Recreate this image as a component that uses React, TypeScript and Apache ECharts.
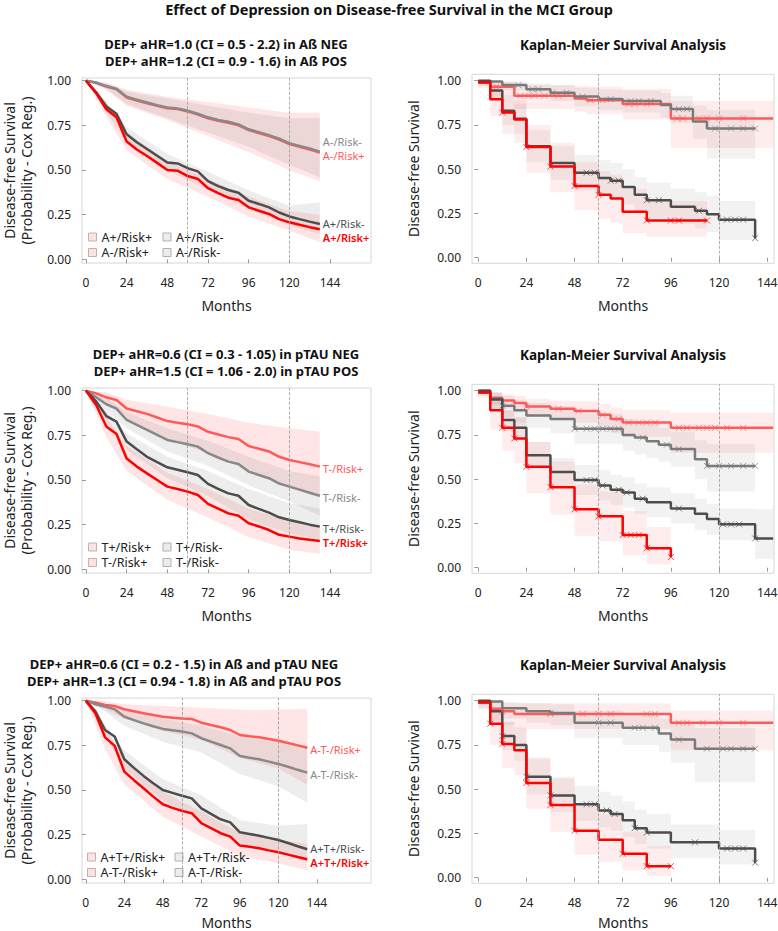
import React, { useEffect, useRef } from "react";
import * as echarts from "echarts";

const FONT = "'Noto Sans', 'DejaVu Sans', sans-serif";
const RED = "#ff0000";
const LRED = "#ff5a5a";
const DARK = "#4d4d4d";
const GRAY = "#888888";
const PINK_BAND = "rgba(255,0,0,0.10)";
const GRAY_BAND = "rgba(110,110,110,0.12)";
const KM_PINK_BAND = "rgba(255,0,0,0.075)";
const KM_GRAY_BAND = "rgba(110,110,110,0.09)";

const MAIN_TITLE = "Effect of Depression on Disease-free Survival in the MCI Group";
const COX_TITLES = [
  "DEP+ aHR=1.0 (CI = 0.5 - 2.2) in Aß NEG\nDEP+ aHR=1.2 (CI = 0.9 - 1.6) in Aß POS",
  "DEP+ aHR=0.6 (CI = 0.3 - 1.05) in pTAU NEG\nDEP+ aHR=1.5 (CI = 1.06 - 2.0) in pTAU POS",
  "DEP+ aHR=0.6 (CI = 0.2 - 1.5) in Aß and pTAU NEG\nDEP+ aHR=1.3 (CI = 0.94 - 1.8) in Aß and pTAU POS",
];
const KM_TITLE = "Kaplan-Meier Survival Analysis";
const X_TICKS = [0, 24, 48, 72, 96, 120, 144];
const Y_TICKS = [0, 0.25, 0.5, 0.75, 1];
const ROW_OFF = [0, 310, 620];

// ---- Cox regression curves (left column) ----
const MONTHS = [0, 6, 12, 18, 24, 30, 36, 42, 48, 54, 60, 66, 72, 78, 84, 90, 96, 102, 108, 114, 120, 126, 132, 138];
const BAND_M = [0, 12, 24, 48, 72, 96, 120, 138];

// Panel 1 (Aß)
const P1_LABELS = ["A+/Risk+", "A+/Risk-", "A-/Risk+", "A-/Risk-"];
const P1_APRP = [1, 0.93, 0.84, 0.795, 0.66, 0.615, 0.578, 0.54, 0.5, 0.496, 0.466, 0.45, 0.398, 0.37, 0.345, 0.332, 0.291, 0.272, 0.254, 0.225, 0.207, 0.193, 0.18, 0.168];
const P1_APRM = [1, 0.935, 0.855, 0.815, 0.7, 0.655, 0.618, 0.58, 0.542, 0.537, 0.51, 0.492, 0.438, 0.41, 0.388, 0.373, 0.328, 0.31, 0.291, 0.262, 0.24, 0.225, 0.211, 0.198];
const P1_AMRP = [1, 0.988, 0.967, 0.952, 0.906, 0.889, 0.874, 0.859, 0.846, 0.841, 0.828, 0.811, 0.79, 0.775, 0.765, 0.75, 0.723, 0.707, 0.69, 0.67, 0.645, 0.63, 0.614, 0.597];
const P1_AMRM = [1, 0.99, 0.97, 0.955, 0.91, 0.893, 0.878, 0.863, 0.85, 0.845, 0.832, 0.815, 0.795, 0.78, 0.77, 0.755, 0.728, 0.712, 0.695, 0.675, 0.65, 0.635, 0.62, 0.603];
const P1_APRP_LO = [1, 0.8, 0.61, 0.45, 0.35, 0.24, 0.16, 0.095];
const P1_APRP_HI = [1, 0.88, 0.71, 0.55, 0.45, 0.35, 0.27, 0.25];
const P1_APRM_LO = [1, 0.825, 0.66, 0.5, 0.39, 0.28, 0.19, 0.14];
const P1_APRM_HI = [1, 0.885, 0.74, 0.59, 0.49, 0.385, 0.3, 0.32];
const P1_AMRP_LO = [1, 0.95, 0.86, 0.78, 0.69, 0.6, 0.5, 0.435];
const P1_AMRP_HI = [1, 0.99, 0.95, 0.91, 0.88, 0.85, 0.82, 0.82];
const P1_AMRM_LO = [1, 0.955, 0.87, 0.79, 0.71, 0.63, 0.53, 0.46];
const P1_AMRM_HI = [1, 0.985, 0.94, 0.9, 0.86, 0.82, 0.79, 0.79];

// Panel 2 (pTAU)
const P2_LABELS = ["T+/Risk+", "T+/Risk-", "T-/Risk+", "T-/Risk-"];
const P2_TPRP = [1, 0.92, 0.8, 0.758, 0.62, 0.575, 0.537, 0.5, 0.463, 0.45, 0.435, 0.416, 0.366, 0.34, 0.313, 0.3, 0.258, 0.24, 0.22, 0.193, 0.183, 0.173, 0.165, 0.158];
const P2_TPRM = [1, 0.94, 0.858, 0.827, 0.715, 0.672, 0.63, 0.6, 0.571, 0.557, 0.543, 0.528, 0.478, 0.45, 0.425, 0.412, 0.36, 0.338, 0.317, 0.291, 0.276, 0.263, 0.25, 0.239];
const P2_TMRP = [1, 0.985, 0.963, 0.948, 0.9, 0.885, 0.87, 0.85, 0.83, 0.821, 0.812, 0.8, 0.77, 0.755, 0.74, 0.73, 0.69, 0.675, 0.66, 0.63, 0.612, 0.6, 0.588, 0.575];
const P2_TMRM = [1, 0.963, 0.924, 0.9, 0.836, 0.808, 0.78, 0.752, 0.724, 0.712, 0.7, 0.687, 0.65, 0.626, 0.603, 0.59, 0.547, 0.528, 0.51, 0.48, 0.463, 0.446, 0.429, 0.412];
const P2_TPRP_LO = [1, 0.74, 0.55, 0.39, 0.29, 0.18, 0.11, 0.085];
const P2_TPRP_HI = [1, 0.85, 0.69, 0.54, 0.45, 0.34, 0.27, 0.25];
const P2_TPRM_LO = [1, 0.83, 0.67, 0.51, 0.41, 0.28, 0.2, 0.17];
const P2_TPRM_HI = [1, 0.89, 0.76, 0.63, 0.55, 0.45, 0.37, 0.34];
const P2_TMRP_LO = [1, 0.93, 0.84, 0.73, 0.65, 0.55, 0.46, 0.4];
const P2_TMRP_HI = [1, 0.99, 0.95, 0.91, 0.87, 0.82, 0.79, 0.77];
const P2_TMRM_LO = [1, 0.89, 0.79, 0.66, 0.58, 0.47, 0.38, 0.3];
const P2_TMRM_HI = [1, 0.96, 0.88, 0.79, 0.72, 0.63, 0.55, 0.52];

// Panel 3 (Aß and pTAU)
const P3_LABELS = ["A+T+/Risk+", "A+T+/Risk-", "A-T-/Risk+", "A-T-/Risk-"];
const P3_PPRP = [1, 0.93, 0.795, 0.747, 0.603, 0.555, 0.51, 0.463, 0.42, 0.4, 0.383, 0.37, 0.314, 0.286, 0.258, 0.239, 0.189, 0.182, 0.174, 0.162, 0.151, 0.138, 0.125, 0.112];
const P3_PPRM = [1, 0.94, 0.836, 0.8, 0.672, 0.624, 0.579, 0.538, 0.5, 0.484, 0.468, 0.453, 0.397, 0.366, 0.336, 0.319, 0.263, 0.254, 0.244, 0.232, 0.22, 0.203, 0.185, 0.168];
const P3_MMRP = [1, 0.99, 0.976, 0.97, 0.952, 0.941, 0.93, 0.92, 0.91, 0.905, 0.9, 0.898, 0.877, 0.864, 0.851, 0.836, 0.808, 0.801, 0.795, 0.786, 0.776, 0.763, 0.75, 0.737];
const P3_MMRM = [1, 0.98, 0.967, 0.952, 0.91, 0.891, 0.873, 0.857, 0.842, 0.835, 0.827, 0.817, 0.79, 0.771, 0.752, 0.733, 0.69, 0.681, 0.672, 0.659, 0.646, 0.63, 0.613, 0.597];
const P3_PPRP_LO = [1, 0.73, 0.53, 0.35, 0.24, 0.13, 0.09, 0.05];
const P3_PPRP_HI = [1, 0.85, 0.67, 0.49, 0.38, 0.26, 0.22, 0.2];
const P3_PPRM_LO = [1, 0.8, 0.62, 0.44, 0.33, 0.2, 0.15, 0.1];
const P3_PPRM_HI = [1, 0.87, 0.72, 0.56, 0.47, 0.33, 0.3, 0.31];
const P3_MMRP_LO = [1, 0.95, 0.9, 0.83, 0.78, 0.68, 0.62, 0.53];
const P3_MMRP_HI = [1, 0.995, 0.98, 0.97, 0.96, 0.95, 0.95, 0.955];
const P3_MMRM_LO = [1, 0.94, 0.86, 0.77, 0.71, 0.59, 0.52, 0.43];
const P3_MMRM_HI = [1, 0.985, 0.95, 0.9, 0.86, 0.8, 0.77, 0.75];

// ---- Kaplan-Meier curves (right column) ----
// KM1 (Aß)
const KM1_RED_T = [0, 6, 12, 18, 24, 36, 48, 60, 66, 72, 84, 114];
const KM1_RED_S = [0.99, 0.895, 0.82, 0.78, 0.625, 0.515, 0.405, 0.355, 0.335, 0.26, 0.21, 0.21];
const KM1_RED_LO = [0.97, 0.8, 0.7, 0.65, 0.48, 0.37, 0.27, 0.22, 0.2, 0.14, 0.12, 0.12];
const KM1_RED_HI = [1, 0.97, 0.92, 0.89, 0.75, 0.65, 0.54, 0.49, 0.47, 0.39, 0.32, 0.32];
const KM1_RED_C = [12, 24, 36, 48, 60, 84, 96, 100, 114];
const KM1_DARK_T = [0, 6, 12, 18, 24, 36, 48, 60, 66, 72, 78, 84, 96, 108, 114, 120, 138];
const KM1_DARK_S = [1, 0.945, 0.83, 0.785, 0.63, 0.535, 0.48, 0.45, 0.435, 0.4, 0.355, 0.325, 0.288, 0.265, 0.245, 0.215, 0.11];
const KM1_DARK_LO = [0.99, 0.89, 0.75, 0.7, 0.54, 0.44, 0.38, 0.35, 0.335, 0.3, 0.255, 0.225, 0.19, 0.165, 0.145, 0.1, 0.02];
const KM1_DARK_HI = [1, 0.985, 0.91, 0.87, 0.72, 0.63, 0.58, 0.55, 0.535, 0.5, 0.455, 0.425, 0.39, 0.37, 0.35, 0.32, 0.32];
const KM1_DARK_C = [54, 58, 66, 70, 84, 90, 110, 124, 128, 132, 138];
const KM1_LRED_T = [0, 6, 18, 48, 54, 72, 96, 147];
const KM1_LRED_S = [0.99, 0.966, 0.915, 0.9, 0.89, 0.868, 0.787, 0.787];
const KM1_LRED_LO = [0.96, 0.91, 0.84, 0.825, 0.81, 0.78, 0.62, 0.62];
const KM1_LRED_HI = [1, 0.995, 0.975, 0.97, 0.965, 0.955, 0.885, 0.885];
const KM1_LRED_C = [9, 21, 25, 28, 33, 40, 56, 62, 75, 78, 84, 99, 102, 110, 114, 120, 132];
const KM1_GRAY_T = [0, 12, 24, 36, 48, 60, 72, 91, 96, 107, 114, 138];
const KM1_GRAY_S = [0.995, 0.975, 0.952, 0.932, 0.91, 0.896, 0.885, 0.862, 0.84, 0.77, 0.73, 0.73];
const KM1_GRAY_LO = [0.985, 0.945, 0.915, 0.885, 0.855, 0.835, 0.82, 0.79, 0.76, 0.67, 0.56, 0.56];
const KM1_GRAY_HI = [1, 0.995, 0.985, 0.975, 0.96, 0.95, 0.945, 0.93, 0.915, 0.86, 0.835, 0.835];
const KM1_GRAY_C = [20, 27, 30, 37, 44, 52, 66, 76, 80, 86, 100, 104, 118, 126, 132, 138];

// KM2 (pTAU)
const KM2_RED_T = [0, 6, 12, 18, 24, 36, 48, 60, 72, 84, 96];
const KM2_RED_S = [0.99, 0.89, 0.79, 0.73, 0.57, 0.455, 0.33, 0.29, 0.185, 0.11, 0.06];
const KM2_RED_LO = [0.96, 0.78, 0.66, 0.59, 0.42, 0.3, 0.18, 0.15, 0.07, 0.02, 0];
const KM2_RED_HI = [1, 0.96, 0.89, 0.85, 0.71, 0.6, 0.47, 0.43, 0.32, 0.23, 0.18];
const KM2_RED_C = [12, 18, 24, 36, 48, 60, 72, 76, 80, 84, 96];
const KM2_DARK_T = [0, 6, 12, 18, 24, 36, 48, 60, 66, 72, 78, 84, 96, 108, 114, 120, 138, 147];
const KM2_DARK_S = [1, 0.95, 0.835, 0.79, 0.635, 0.54, 0.495, 0.465, 0.44, 0.425, 0.39, 0.37, 0.335, 0.305, 0.275, 0.245, 0.165, 0.165];
const KM2_DARK_LO = [0.99, 0.9, 0.77, 0.72, 0.56, 0.46, 0.41, 0.38, 0.355, 0.34, 0.305, 0.285, 0.25, 0.215, 0.185, 0.155, 0.05, 0.05];
const KM2_DARK_HI = [1, 0.99, 0.89, 0.85, 0.71, 0.62, 0.58, 0.55, 0.525, 0.51, 0.475, 0.455, 0.42, 0.39, 0.36, 0.335, 0.33, 0.33];
const KM2_DARK_C = [54, 58, 62, 70, 74, 82, 100, 122, 126, 130, 138];
const KM2_LRED_T = [0, 6, 12, 18, 24, 36, 48, 60, 66, 72, 96, 147];
const KM2_LRED_S = [0.99, 0.96, 0.945, 0.93, 0.91, 0.898, 0.885, 0.864, 0.84, 0.82, 0.79, 0.79];
const KM2_LRED_LO = [0.97, 0.92, 0.9, 0.88, 0.855, 0.84, 0.82, 0.79, 0.76, 0.74, 0.65, 0.65];
const KM2_LRED_HI = [1, 0.99, 0.98, 0.97, 0.955, 0.945, 0.94, 0.925, 0.905, 0.89, 0.876, 0.876];
const KM2_LRED_C = [24, 40, 50, 62, 70, 75, 80, 84, 88, 100, 104, 110, 114, 118, 124, 132];
const KM2_GRAY_T = [0, 6, 12, 18, 24, 36, 48, 72, 78, 84, 90, 96, 108, 114, 138];
const KM2_GRAY_S = [1, 0.955, 0.915, 0.89, 0.86, 0.84, 0.785, 0.75, 0.735, 0.715, 0.695, 0.67, 0.612, 0.575, 0.575];
const KM2_GRAY_LO = [0.99, 0.9, 0.85, 0.82, 0.79, 0.76, 0.7, 0.66, 0.64, 0.62, 0.6, 0.57, 0.5, 0.43, 0.43];
const KM2_GRAY_HI = [1, 0.99, 0.97, 0.95, 0.93, 0.915, 0.87, 0.84, 0.825, 0.81, 0.79, 0.77, 0.72, 0.7, 0.7];
const KM2_GRAY_C = [12, 48, 54, 58, 62, 66, 70, 82, 94, 100, 114, 120, 126, 132, 138];

// KM3 (Aß and pTAU)
const KM3_RED_T = [0, 6, 12, 18, 24, 36, 48, 60, 72, 84, 96];
const KM3_RED_S = [0.99, 0.87, 0.755, 0.72, 0.535, 0.41, 0.265, 0.215, 0.135, 0.065, 0.065];
const KM3_RED_LO = [0.95, 0.75, 0.62, 0.58, 0.39, 0.26, 0.13, 0.09, 0.04, 0.01, 0.01];
const KM3_RED_HI = [1, 0.96, 0.88, 0.85, 0.68, 0.56, 0.42, 0.36, 0.26, 0.18, 0.18];
const KM3_RED_C = [6, 12, 24, 36, 48, 72, 84, 96];
const KM3_DARK_T = [0, 6, 12, 18, 24, 36, 48, 60, 66, 72, 78, 84, 96, 120, 138];
const KM3_DARK_S = [1, 0.94, 0.8, 0.75, 0.57, 0.465, 0.415, 0.38, 0.36, 0.325, 0.28, 0.255, 0.2, 0.165, 0.085];
const KM3_DARK_LO = [0.99, 0.88, 0.72, 0.66, 0.47, 0.37, 0.32, 0.285, 0.265, 0.23, 0.19, 0.165, 0.11, 0.075, 0.02];
const KM3_DARK_HI = [1, 0.99, 0.88, 0.84, 0.67, 0.57, 0.52, 0.485, 0.465, 0.43, 0.385, 0.36, 0.3, 0.27, 0.27];
const KM3_DARK_C = [12, 24, 36, 54, 58, 64, 68, 78, 84, 108, 124, 128, 132, 138];
const KM3_LRED_T = [0, 6, 12, 18, 96, 147];
const KM3_LRED_S = [0.99, 0.955, 0.94, 0.925, 0.875, 0.875];
const KM3_LRED_LO = [0.96, 0.89, 0.865, 0.84, 0.72, 0.72];
const KM3_LRED_HI = [1, 0.995, 0.99, 0.985, 0.945, 0.945];
const KM3_LRED_C = [12, 36, 52, 60, 66, 84, 88, 100, 104, 112, 120, 132];
const KM3_GRAY_T = [0, 12, 24, 36, 48, 72, 90, 96, 108, 138];
const KM3_GRAY_S = [0.995, 0.957, 0.94, 0.93, 0.876, 0.847, 0.815, 0.78, 0.729, 0.729];
const KM3_GRAY_LO = [0.985, 0.9, 0.875, 0.86, 0.79, 0.75, 0.71, 0.65, 0.54, 0.54];
const KM3_GRAY_HI = [1, 0.99, 0.985, 0.98, 0.945, 0.925, 0.9, 0.875, 0.845, 0.845];
const KM3_GRAY_C = [36, 60, 66, 78, 82, 88, 100, 114, 122, 126, 132, 138];

const X_PATH = "path://M0 0L10 10M10 0L0 10";

function stepAt(T: number[], S: number[], t: number) {
  let v = S[0];
  for (let i = 0; i < T.length; i++) if (T[i] <= t) v = S[i];
  return v;
}

function bandSeries(name: string, idx: number, times: number[], lo: number[], hi: number[], color: string, step: boolean) {
  return {
    type: "custom",
    name,
    xAxisIndex: idx,
    yAxisIndex: idx,
    z: 1,
    silent: true,
    data: [[times[0], hi[0]]],
    renderItem: (_params: any, api: any) => {
      const top: number[][] = [];
      const bot: number[][] = [];
      for (let i = 0; i < times.length; i++) {
        if (step && i > 0) top.push(api.coord([times[i], hi[i - 1]]));
        top.push(api.coord([times[i], hi[i]]));
      }
      for (let i = times.length - 1; i >= 0; i--) {
        bot.push(api.coord([times[i], lo[i]]));
        if (step && i > 0) bot.push(api.coord([times[i], lo[i - 1]]));
      }
      return { type: "polygon", shape: { points: top.concat(bot) }, style: { fill: color } };
    },
  };
}

function lineSeries(name: string, idx: number, xs: number[], ys: number[], color: string, extra: any = {}) {
  return {
    type: "line",
    name,
    xAxisIndex: idx,
    yAxisIndex: idx,
    data: xs.map((x, i) => [x, ys[i]]),
    showSymbol: false,
    symbol: "none",
    lineStyle: { color, width: 2.5 },
    itemStyle: { color },
    z: 3,
    silent: true,
    ...extra,
  };
}

const DASHED = {
  silent: true,
  symbol: ["none", "none"],
  label: { show: false },
  lineStyle: { type: "dashed", color: "#9a9a9a", width: 0.8 },
  data: [{ xAxis: 60 }, { xAxis: 120 }],
};

function endLabel(text: string, color: string, dy: number, bold: boolean) {
  return {
    show: true,
    formatter: text,
    color,
    fontSize: 11,
    lineHeight: 11,
    fontFamily: FONT,
    fontWeight: bold ? 600 : "normal",
    distance: 3,
    offset: [0, dy],
  };
}

function buildOption() {
  const grids: any[] = [];
  const xAxes: any[] = [];
  const yAxes: any[] = [];
  const series: any[] = [];
  const legends: any[] = [];
  const graphics: any[] = [];

  const axisCommon = {
    type: "value",
    axisLine: { show: false },
    splitLine: { show: false },
  };
  const tickStyle = { show: true, length: 4, lineStyle: { color: "#999" } };
  const labelStyle = { fontSize: 12, color: "#222", fontFamily: FONT };
  const nameStyle = { fontSize: 14, lineHeight: 14, color: "#222", fontFamily: FONT };

  for (let r = 0; r < 3; r++) {
    const off = ROW_OFF[r];
    const xGap = r === 2 ? 32.5 : 35;
    grids.push({ left: 82, top: 78 + off, width: 289, height: 185, show: true, borderColor: "#d6d6d6", borderWidth: 1, backgroundColor: "transparent", outerBoundsMode: "none", containLabel: false });
    grids.push({ left: 472, top: 74.3 + off, width: 302, height: 189, show: true, borderColor: "#d6d6d6", borderWidth: 1, backgroundColor: "transparent", outerBoundsMode: "none", containLabel: false });

    const li = 2 * r;
    const ri = 2 * r + 1;
    xAxes.push({
      ...axisCommon, gridIndex: li, min: -2.36, max: r === 2 ? 177.7 : 168.2,
      axisTick: { ...tickStyle, customValues: X_TICKS },
      axisLabel: { ...labelStyle, margin: 13, customValues: X_TICKS },
      name: "Months", nameLocation: "middle", nameGap: xGap, nameTextStyle: nameStyle,
    });
    xAxes.push({
      ...axisCommon, gridIndex: ri, min: -3.1, max: 147.4,
      axisTick: { ...tickStyle, customValues: X_TICKS },
      axisLabel: { ...labelStyle, margin: 13, customValues: X_TICKS },
      name: "Months", nameLocation: "middle", nameGap: r === 2 ? 32 : 35, nameTextStyle: nameStyle,
    });
    yAxes.push({
      ...axisCommon, gridIndex: li, min: -0.0207, max: 1.0151,
      axisTick: { ...tickStyle, customValues: Y_TICKS },
      axisLabel: { ...labelStyle, margin: 11, customValues: Y_TICKS, formatter: (v: number) => v.toFixed(2) },
      name: "Disease-free Survival\n(Probability - Cox Reg.)", nameLocation: "middle", nameGap: 47, nameRotate: 90,
      nameTextStyle: { ...nameStyle, lineHeight: 17 },
    });
    yAxes.push({
      ...axisCommon, gridIndex: ri, min: -0.0316, max: 1.036,
      axisTick: { ...tickStyle, customValues: Y_TICKS },
      axisLabel: { ...labelStyle, margin: 11, customValues: Y_TICKS, formatter: (v: number) => v.toFixed(2) },
      name: "Disease-free Survival", nameLocation: "middle", nameGap: 52, nameRotate: 90,
      nameTextStyle: nameStyle,
    });

    graphics.push({
      type: "text", x: r === 2 ? 184 : 226, y: 52.5 + off, silent: true,
      style: { text: COX_TITLES[r], fill: "#111", font: `bold 13px ${FONT}`, align: "center", verticalAlign: "middle", lineHeight: 17 },
    });
    graphics.push({
      type: "text", x: 623, y: 45 + off, silent: true,
      style: { text: KM_TITLE, fill: "#111", font: `bold 13.5px ${FONT}`, align: "center", verticalAlign: "middle" },
    });
  }

  // ---- Cox panels ----
  const coxPanels = [
    { labels: P1_LABELS, pp: P1_APRP, pm: P1_APRM, mp: P1_AMRP, mm: P1_AMRM,
      bands: [[P1_APRP_LO, P1_APRP_HI], [P1_APRM_LO, P1_APRM_HI], [P1_AMRP_LO, P1_AMRP_HI], [P1_AMRM_LO, P1_AMRM_HI]],
      dy: [8, -0.5, 2.5, -10.5] },
    { labels: P2_LABELS, pp: P2_TPRP, pm: P2_TPRM, mp: P2_TMRP, mm: P2_TMRM,
      bands: [[P2_TPRP_LO, P2_TPRP_HI], [P2_TPRM_LO, P2_TPRM_HI], [P2_TMRP_LO, P2_TMRP_HI], [P2_TMRM_LO, P2_TMRM_HI]],
      dy: [1, 2, 2, 2] },
    { labels: P3_LABELS, pp: P3_PPRP, pm: P3_PPRM, mp: P3_MMRP, mm: P3_MMRM,
      bands: [[P3_PPRP_LO, P3_PPRP_HI], [P3_PPRM_LO, P3_PPRM_HI], [P3_MMRP_LO, P3_MMRP_HI], [P3_MMRM_LO, P3_MMRM_HI]],
      dy: [3.5, -0.5, 1.5, 1.5] },
  ];
  const bandColors = [PINK_BAND, GRAY_BAND, PINK_BAND, GRAY_BAND];
  coxPanels.forEach((p, r) => {
    const idx = 2 * r;
    p.bands.forEach((b, k) => {
      series.push(bandSeries(p.labels[k], idx, BAND_M, b[0], b[1], bandColors[k], false));
    });
    series.push(lineSeries(`line-${p.labels[2]}`, idx, MONTHS, p.mp, LRED, { endLabel: endLabel(p.labels[2], LRED, p.dy[2], false), markLine: DASHED }));
    series.push(lineSeries(`line-${p.labels[3]}`, idx, MONTHS, p.mm, GRAY, { endLabel: endLabel(p.labels[3], GRAY, p.dy[3], false) }));
    series.push(lineSeries(`line-${p.labels[1]}`, idx, MONTHS, p.pm, DARK, { endLabel: endLabel(p.labels[1], DARK, p.dy[1], false) }));
    series.push(lineSeries(`line-${p.labels[0]}`, idx, MONTHS, p.pp, RED, { endLabel: endLabel(p.labels[0], RED, p.dy[0], true) }));

    const off = ROW_OFF[r];
    const wide = r === 2;
    const legendIcon = (name: string, pink: boolean) => ({
      name,
      icon: "rect",
      itemStyle: pink
        ? { color: "#fde2e2", borderColor: "#c4b0b0", borderWidth: 1 }
        : { color: "#ececec", borderColor: "#b0b0b0", borderWidth: 1 },
    });
    const legendBase = {
      left: wide ? 87 : 88,
      orient: "horizontal",
      itemWidth: 8,
      itemHeight: 8,
      itemGap: 8,
      padding: 0,
      selectedMode: false,
      textStyle: { fontSize: 12.5, lineHeight: 13, color: "#222", fontFamily: FONT, width: wide ? 66 : 53 },
    };
    legends.push({ ...legendBase, top: 230.5 + off, data: [legendIcon(p.labels[0], true), legendIcon(p.labels[1], false)] });
    legends.push({ ...legendBase, top: 246 + off, data: [legendIcon(p.labels[2], true), legendIcon(p.labels[3], false)] });
  });

  // ---- KM panels ----
  const kmPanels = [
    [
      { key: "lred", T: KM1_LRED_T, S: KM1_LRED_S, LO: KM1_LRED_LO, HI: KM1_LRED_HI, C: KM1_LRED_C, color: LRED, band: KM_PINK_BAND },
      { key: "gray", T: KM1_GRAY_T, S: KM1_GRAY_S, LO: KM1_GRAY_LO, HI: KM1_GRAY_HI, C: KM1_GRAY_C, color: "#7a7a7a", band: KM_GRAY_BAND },
      { key: "dark", T: KM1_DARK_T, S: KM1_DARK_S, LO: KM1_DARK_LO, HI: KM1_DARK_HI, C: KM1_DARK_C, color: DARK, band: KM_GRAY_BAND },
      { key: "red", T: KM1_RED_T, S: KM1_RED_S, LO: KM1_RED_LO, HI: KM1_RED_HI, C: KM1_RED_C, color: RED, band: KM_PINK_BAND },
    ],
    [
      { key: "lred", T: KM2_LRED_T, S: KM2_LRED_S, LO: KM2_LRED_LO, HI: KM2_LRED_HI, C: KM2_LRED_C, color: LRED, band: KM_PINK_BAND },
      { key: "gray", T: KM2_GRAY_T, S: KM2_GRAY_S, LO: KM2_GRAY_LO, HI: KM2_GRAY_HI, C: KM2_GRAY_C, color: "#7a7a7a", band: KM_GRAY_BAND },
      { key: "dark", T: KM2_DARK_T, S: KM2_DARK_S, LO: KM2_DARK_LO, HI: KM2_DARK_HI, C: KM2_DARK_C, color: DARK, band: KM_GRAY_BAND },
      { key: "red", T: KM2_RED_T, S: KM2_RED_S, LO: KM2_RED_LO, HI: KM2_RED_HI, C: KM2_RED_C, color: RED, band: KM_PINK_BAND },
    ],
    [
      { key: "lred", T: KM3_LRED_T, S: KM3_LRED_S, LO: KM3_LRED_LO, HI: KM3_LRED_HI, C: KM3_LRED_C, color: LRED, band: KM_PINK_BAND },
      { key: "gray", T: KM3_GRAY_T, S: KM3_GRAY_S, LO: KM3_GRAY_LO, HI: KM3_GRAY_HI, C: KM3_GRAY_C, color: "#7a7a7a", band: KM_GRAY_BAND },
      { key: "dark", T: KM3_DARK_T, S: KM3_DARK_S, LO: KM3_DARK_LO, HI: KM3_DARK_HI, C: KM3_DARK_C, color: DARK, band: KM_GRAY_BAND },
      { key: "red", T: KM3_RED_T, S: KM3_RED_S, LO: KM3_RED_LO, HI: KM3_RED_HI, C: KM3_RED_C, color: RED, band: KM_PINK_BAND },
    ],
  ];
  kmPanels.forEach((curves, r) => {
    const idx = 2 * r + 1;
    curves.forEach((c) => {
      series.push(bandSeries(`km${r}-band-${c.key}`, idx, c.T, c.LO, c.HI, c.band, true));
    });
    curves.forEach((c, k) => {
      series.push(lineSeries(`km${r}-${c.key}`, idx, c.T, c.S, c.color, { step: "end", ...(k === 0 ? { markLine: DASHED } : {}) }));
      series.push({
        type: "scatter",
        name: `km${r}-cens-${c.key}`,
        xAxisIndex: idx,
        yAxisIndex: idx,
        data: c.C.map((t) => [t, stepAt(c.T, c.S, t)]),
        symbol: X_PATH,
        symbolSize: 6,
        itemStyle: { color: "rgba(0,0,0,0)", borderColor: c.color, borderWidth: 1, opacity: 0.7 },
        z: 4,
        silent: true,
      });
    });
  });

  graphics.push({
    type: "text", x: 389, y: 8.5, silent: true,
    style: { text: MAIN_TITLE, fill: "#111", font: `bold 14.5px ${FONT}`, align: "center", verticalAlign: "middle" },
  });

  return {
    animation: false,
    backgroundColor: "#ffffff",
    textStyle: { fontFamily: FONT },
    grid: grids,
    xAxis: xAxes,
    yAxis: yAxes,
    legend: legends,
    series,
    graphic: graphics,
  };
}

export default function App() {
  const ref = useRef<HTMLDivElement>(null);
  useEffect(() => {
    if (!ref.current) return;
    const chart = echarts.init(ref.current, null, { renderer: "svg" });
    chart.setOption(buildOption() as any);
    return () => chart.dispose();
  }, []);
  return (
    <div
      ref={ref}
      style={{ position: "absolute", left: 0, top: 0, width: 778, height: 931, background: "#fff" }}
    />
  );
}
